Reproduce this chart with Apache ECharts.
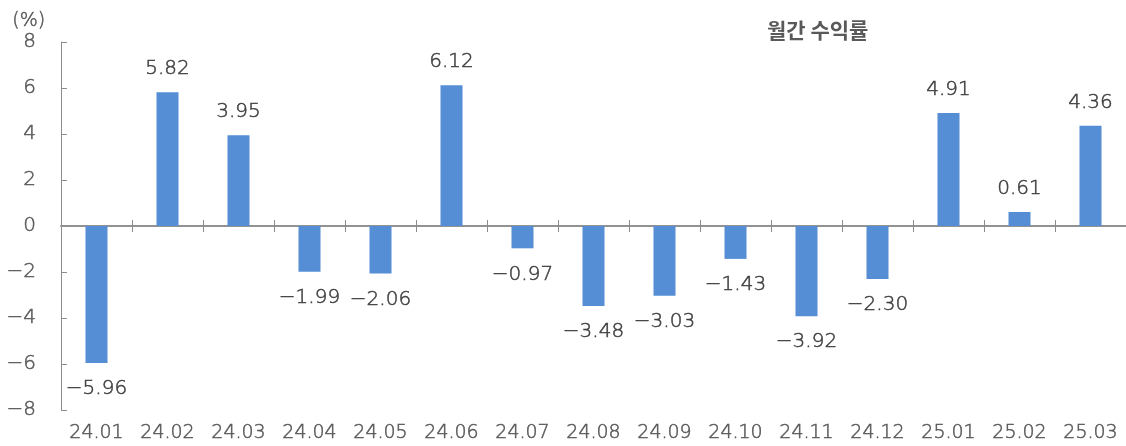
<!DOCTYPE html>
<html>
<head>
<meta charset="utf-8">
<script src="https://cdn.jsdelivr.net/npm/echarts@6/dist/echarts.min.js"></script>
<style>html,body{margin:0;padding:0;background:#fff}#c{width:1126px;height:446px}</style>
</head>
<body>
<div id="c"></div>
<script>
const categories = ['24.01','24.02','24.03','24.04','24.05','24.06','24.07','24.08','24.09','24.10','24.11','24.12','25.01','25.02','25.03'];
const returns = [-5.96, 5.82, 3.95, -1.99, -2.06, 6.12, -0.97, -3.48, -3.03, -1.43, -3.92, -2.30, 4.91, 0.61, 4.36];
const yTicks = { min: -8, max: 8, interval: 2 };
const titleText = '월간 수익률';
const unitText = '(%)';

const FONT = '"DejaVu Sans", sans-serif';
const KFONT = '"Noto Sans CJK KR", sans-serif';
const W = 200;
const BW = 0.5;
const fmt = v => (v < 0 ? '\u2212' : '') + Math.abs(v).toFixed(2);
const fmtAxis = v => (v < 0 ? '\u2212' : '') + Math.abs(v);
const lineColor = '#8c8c8c';
const axisTextColor = '#595959';
const labelColor = '#404040';

const chart = echarts.init(document.getElementById('c'));
chart.setOption({
  animation: false,
  graphic: [
    { type: 'text', left: 12, top: 11, style: { text: unitText, font: W + ' 19px ' + FONT, fill: axisTextColor, stroke: axisTextColor, lineWidth: BW } },
    { type: 'text', left: 767, top: 20, style: { text: titleText, font: 'bold 21px ' + KFONT, fill: axisTextColor } }
  ],
  grid: { left: 61, top: 42, width: 1070, bottom: 36 },
  xAxis: [
    { type: 'category', data: categories, position: 'bottom',
      axisLine: { onZero: true, onZeroAxisIndex: 0, lineStyle: { color: lineColor, width: 1.5 } },
      axisTick: { show: true, length: 6, inside: false, lineStyle: { color: lineColor } },
      axisLabel: { show: false } },
    { type: 'category', data: categories, position: 'bottom',
      axisLine: { onZero: true, onZeroAxisIndex: 0, lineStyle: { color: lineColor, width: 1.5 } },
      axisTick: { show: true, length: 6, inside: true, lineStyle: { color: lineColor } },
      axisLabel: { show: false } },
    { type: 'category', data: categories, position: 'bottom',
      axisLine: { show: false, onZero: false },
      axisTick: { show: false },
      axisLabel: { show: true, color: axisTextColor, fontSize: 19, fontWeight: W, fontFamily: FONT, margin: 14,
        textBorderColor: axisTextColor, textBorderWidth: BW } }
  ],
  yAxis: {
    type: 'value', min: yTicks.min, max: yTicks.max, interval: yTicks.interval,
    axisLine: { show: true, lineStyle: { color: lineColor, width: 1 } },
    axisTick: { show: true, inside: true, length: 6, lineStyle: { color: lineColor } },
    splitLine: { show: false },
    axisLabel: { color: axisTextColor, fontSize: 20, fontWeight: W, fontFamily: FONT, margin: 25, formatter: fmtAxis,
      textBorderColor: axisTextColor, textBorderWidth: BW }
  },
  series: [{
    type: 'bar', xAxisIndex: 0, data: returns.map(v => ({
      value: v,
      label: { position: v < 0 ? 'bottom' : 'top', distance: v < 0 ? 16 : 13 }
    })),
    barWidth: 22,
    itemStyle: { color: '#558ED5' },
    label: { show: true, distance: 13, color: labelColor, fontSize: 20, fontWeight: W, fontFamily: FONT,
      textBorderColor: labelColor, textBorderWidth: BW, formatter: p => fmt(p.value) }
  }]
});
</script>
</body>
</html>
